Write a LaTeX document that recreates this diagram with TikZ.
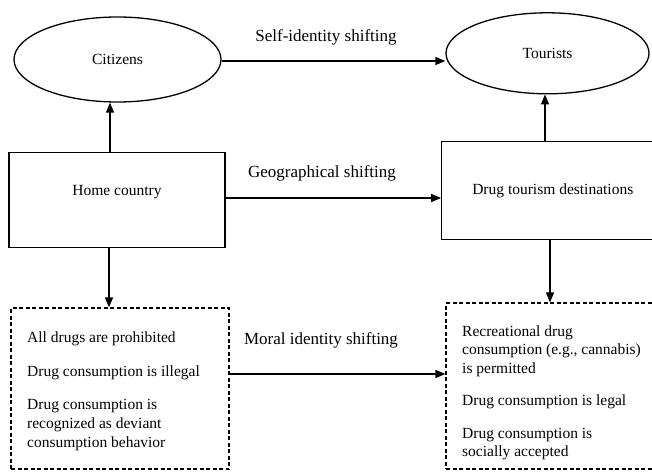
\documentclass[tikz,border=0pt]{standalone}
\usepackage{fontspec}
\setmainfont{Liberation Serif}
\usetikzlibrary{shapes.geometric,arrows.meta}
\begin{document}
\begin{tikzpicture}[x=1pt,y=-1pt,
  arr/.style={-{Triangle[length=10pt,width=8pt]}, line width=1.3pt},
  txt/.style={font=\fontsize{15.5}{19}\selectfont, inner sep=0pt},
  lbl/.style={font=\fontsize{17}{20}\selectfont, inner sep=0pt},
  oval/.style={ellipse, draw, line width=1.3pt, inner sep=0pt, font=\fontsize{15.5}{19}\selectfont},
  solidbox/.style={rectangle, draw, line width=1.3pt, inner sep=0pt, font=\fontsize{15.5}{19}\selectfont},
  dashbox/.style={rectangle, draw, line width=1.2pt, dash pattern=on 4pt off 2.5pt, inner sep=0pt}]
\useasboundingbox (0,0) rectangle (652,473);
\clip (0,0) rectangle (652,473);
\fill[white] (0,0) rectangle (652,473);

% ellipses
\node[oval, minimum width=207pt, minimum height=85pt] (cit) at (117.5,59.5) {Citizens};
\node[oval, minimum width=203pt, minimum height=81pt] (tour) at (547.5,53.3) {Tourists};

% solid boxes
\node[solidbox, minimum width=216pt, minimum height=95pt] (home) at (117,200.3) {};
\node[txt] (homet) at (117,192) {Home country};
\node[solidbox, minimum width=222pt, minimum height=97.6pt] (dest) at (552.8,190.5) {Drug tourism destinations};

% dashed boxes
\node[dashbox, minimum width=218pt, minimum height=161pt] (lbox) at (120,388.5) {};
\node[dashbox, minimum width=218pt, minimum height=166pt] (rbox) at (555,386) {};

% arrow guide coordinates
\coordinate (ax1) at (110,0);
\coordinate (ax2) at (109,0);
\coordinate (ax3) at (545,0);
\coordinate (ax4) at (550,0);
\coordinate (ay1) at (0,61);
\coordinate (ay2) at (0,198);
\coordinate (ay3) at (0,374);

\draw[arr] (cit.east |- ay1) -- (tour.west |- ay1);
\draw[arr] (home.north -| ax1) -- (cit.south -| ax1);
\draw[arr] (home.south -| ax2) -- (lbox.north -| ax2);
\draw[arr] (dest.north -| ax3) -- (tour.south -| ax3);
\draw[arr] (dest.south -| ax4) -- (rbox.north -| ax4);
\draw[arr] (home.east |- ay2) -- (dest.west |- ay2);
\draw[arr] (lbox.east |- ay3) -- (rbox.west |- ay3);

% connector labels
\node[lbl] (l1) at (326,37) {Self-identity shifting};
\node[lbl] (l2) at (322,173) {Geographical shifting};
\node[lbl] (l3) at (321,340) {Moral identity shifting};

% left box text
\node[txt, anchor=base west] (a1) at (27,342) {All drugs are prohibited};
\node[txt, anchor=base west] (a2) at (27,376) {Drug consumption is illegal};
\node[txt, anchor=base west] (a3) at (27,409) {Drug consumption is};
\node[txt, anchor=base west] (a4) at (27,428) {recognized as deviant};
\node[txt, anchor=base west] (a5) at (27,447) {consumption behavior};

% right box text
\node[txt, anchor=base west] (b1) at (462,336) {Recreational drug};
\node[txt, anchor=base west] (b2) at (462,354.5) {consumption (e.g., cannabis)};
\node[txt, anchor=base west] (b3) at (462,373) {is permitted};
\node[txt, anchor=base west] (b4) at (462,405) {Drug consumption is legal};
\node[txt, anchor=base west] (b5) at (462,438) {Drug consumption is};
\node[txt, anchor=base west] (b6) at (462,456.5) {socially accepted};
\end{tikzpicture}
\end{document}
